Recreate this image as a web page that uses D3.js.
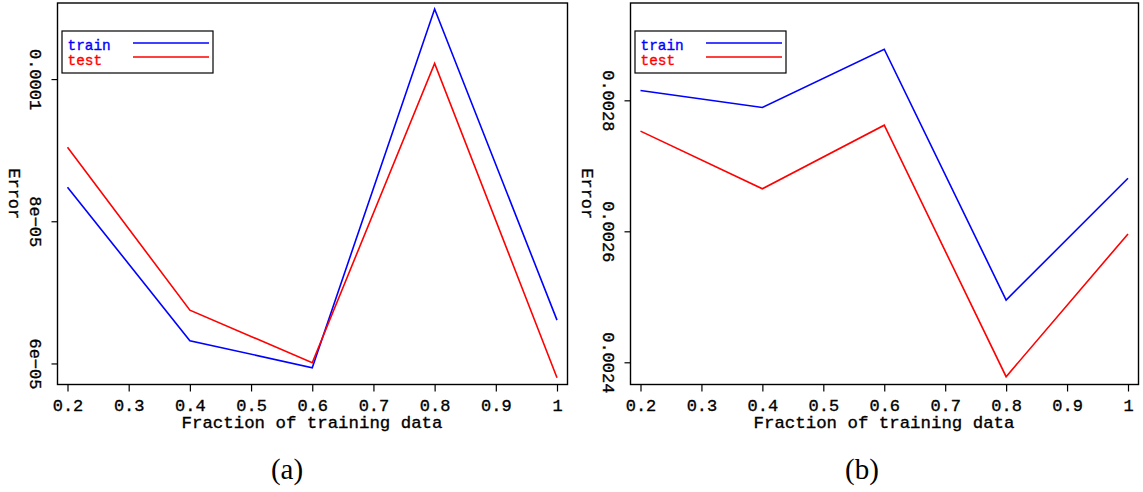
<!DOCTYPE html>
<html>
<head>
<meta charset="utf-8">
<script src="https://cdn.jsdelivr.net/npm/d3@7"></script>
<style>
  html, body { margin: 0; padding: 0; background: #fff; }
  svg { display: block; }
  .mono { font-family: "Liberation Mono", "Courier New", monospace; stroke-width: 0.35px; }
</style>
</head>
<body>
<svg id="fig" width="1143" height="492"></svg>
<script>
// Training fractions shared by both panels
const fractions = [0.2, 0.4, 0.6, 0.8, 1.0];
const xTicks = [0.2, 0.3, 0.4, 0.5, 0.6, 0.7, 0.8, 0.9, 1.0];
const xTickLabels = ["0.2", "0.3", "0.4", "0.5", "0.6", "0.7", "0.8", "0.9", "1"];

// Panel (a) errors
const trainA = [8.48e-05, 6.32e-05, 5.94e-05, 1.0986e-04, 6.61e-05];
const testA  = [9.04e-05, 6.75e-05, 6.01e-05, 1.0221e-04, 5.80e-05];
const yTicksA = [6e-05, 8e-05, 1e-04];
const yTickLabelsA = ["6e\u221205", "8e\u221205", "0.0001"];

// Panel (b) errors
const trainB = [0.002815, 0.002789, 0.002878, 0.002495, 0.002681];
const testB  = [0.002753, 0.002665, 0.002762, 0.002378, 0.002596];
const yTicksB = [0.0024, 0.0026, 0.0028];
const yTickLabelsB = ["0.0024", "0.0026", "0.0028"];

const seriesNames = ["train", "test"];
const seriesColors = ["#0000ff", "#ff0000"];

const svg = d3.select("#fig");

const panels = [
  { left: 57.5, right: 567.5, yDomain: [5.704e-05, 1.107e-04],
    train: trainA, test: testA, yTicks: yTicksA, yLabels: yTickLabelsA, caption: "(a)", capX: 287 },
  { left: 630.5, right: 1138.5, yDomain: [0.0023661, 0.0029486],
    train: trainB, test: testB, yTicks: yTicksB, yLabels: yTickLabelsB, caption: "(b)", capX: 862 }
];
const plotTop = 3, plotBottom = 384.5;

panels.forEach(p => {
  const g = svg.append("g");
  const x = d3.scaleLinear().domain([0.2, 1.0]).range([p.left + 10, p.right - 10.5]);
  const y = d3.scaleLinear().domain(p.yDomain).range([plotBottom, plotTop]);

  // data lines
  const line = d3.line().x((d, i) => x(fractions[i])).y(d => y(d));
  [p.train, p.test].forEach((vals, k) => {
    g.append("path").datum(vals)
      .attr("d", line)
      .attr("fill", "none")
      .attr("stroke", seriesColors[k])
      .attr("stroke-width", 1.6)
      .attr("stroke-linejoin", "miter");
  });

  // bottom axis
  const xAxis = d3.axisBottom(x).tickValues(xTicks)
    .tickFormat((d, i) => xTickLabels[i]).tickSize(7).tickPadding(3);
  const gx = g.append("g").attr("transform", `translate(0,${plotBottom})`).call(xAxis);
  gx.select(".domain").remove();
  gx.selectAll(".tick line").attr("stroke", "#000").attr("stroke-width", 1.2);
  gx.selectAll(".tick text").attr("class", "mono").attr("font-size", 17)
    .attr("fill", "#000").attr("stroke", "#000").attr("dy", "0.95em");

  // left axis with labels rotated to read downward
  const yAxis = d3.axisLeft(y).tickValues(p.yTicks).tickFormat(() => "").tickSize(6);
  const gy = g.append("g").attr("transform", `translate(${p.left},0)`).call(yAxis);
  gy.select(".domain").remove();
  gy.selectAll(".tick line").attr("stroke", "#000").attr("stroke-width", 1.2);
  gy.selectAll(".tick").append("text")
    .attr("class", "mono")
    .attr("font-size", 17)
    .attr("fill", "#000").attr("stroke", "#000")
    .attr("text-anchor", "middle")
    .attr("transform", "translate(-27.5,0) rotate(90)")
    .text((d, i) => p.yLabels[i]);

  // plot frame
  g.append("rect")
    .attr("x", p.left).attr("y", plotTop)
    .attr("width", p.right - p.left).attr("height", plotBottom - plotTop)
    .attr("fill", "none").attr("stroke", "#000").attr("stroke-width", 1.4);

  // axis titles
  g.append("text").attr("class", "mono")
    .attr("x", (p.left + p.right) / 2 - 0.5).attr("y", 428)
    .attr("text-anchor", "middle").attr("font-size", 17.4)
    .attr("fill", "#000").attr("stroke", "#000")
    .text("Fraction of training data");
  g.append("text").attr("class", "mono")
    .attr("text-anchor", "middle").attr("font-size", 17)
    .attr("fill", "#000").attr("stroke", "#000")
    .attr("transform", `translate(${p.left - 49},${(plotTop + plotBottom) / 2}) rotate(90)`)
    .text("Error");

  // legend
  const lx = p.left + 4.5, ly = 31;
  const lg = g.append("g").attr("transform", `translate(${lx},${ly})`);
  lg.append("rect").attr("width", 151).attr("height", 42)
    .attr("fill", "#fff").attr("stroke", "#000").attr("stroke-width", 1.2);
  seriesNames.forEach((name, k) => {
    lg.append("text").attr("class", "mono")
      .attr("x", 5.5).attr("y", 18.5 + k * 15.5)
      .attr("font-size", 14.4)
      .attr("fill", seriesColors[k]).attr("stroke", seriesColors[k])
      .text(name);
    lg.append("line")
      .attr("x1", 71).attr("x2", 147)
      .attr("y1", 12 + k * 14).attr("y2", 12 + k * 14)
      .attr("stroke", seriesColors[k]).attr("stroke-width", 1.6);
  });

  // panel caption
  svg.append("text")
    .attr("x", p.capX).attr("y", 479)
    .attr("text-anchor", "middle")
    .attr("font-family", "'Liberation Serif', 'DejaVu Serif', serif")
    .attr("font-size", 29)
    .text(p.caption);
});
</script>
</body>
</html>
